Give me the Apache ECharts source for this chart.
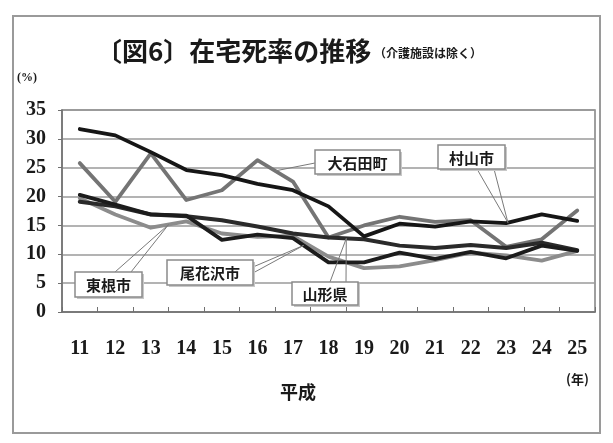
<!DOCTYPE html>
<html>
<head>
<meta charset="utf-8">
<script src="https://cdn.jsdelivr.net/npm/echarts@6/dist/echarts.min.js"></script>
<style>
  html, body { margin: 0; padding: 0; background: #ffffff; }
  #chart { width: 613px; height: 443px; }
</style>
</head>
<body>
<div id="chart"></div>
<script>
// 平成11年〜25年
const years = ['11', '12', '13', '14', '15', '16', '17', '18', '19', '20', '21', '22', '23', '24', '25'];

// 在宅死率（%）
const murayama   = [31.7, 30.6, 27.7, 24.6, 23.7, 22.2, 21.1, 18.3, 13.1, 15.3, 14.8, 15.7, 15.4, 16.9, 15.8];
const oishida    = [25.8, 19.1, 27.5, 19.4, 21.1, 26.3, 22.6, 12.9, 15.0, 16.5, 15.6, 15.9, 11.3, 12.6, 17.6];
const higashine  = [19.7, 16.9, 14.6, 15.7, 13.6, 13.0, 13.2, 9.6, 7.6, 7.9, 9.0, 10.3, 9.8, 8.9, 10.6];
const obanazawa  = [20.3, 18.6, 16.9, 16.7, 12.5, 13.4, 12.8, 8.6, 8.6, 10.3, 9.2, 10.4, 9.3, 11.5, 10.6];
const yamagata   = [19.1, 18.3, 16.9, 16.6, 15.9, 14.8, 13.6, 12.9, 12.6, 11.5, 11.1, 11.6, 11.1, 12.0, 10.7];

const yMin = 0, yMax = 35, yStep = 5;

const serifNum = '"Liberation Serif", "DejaVu Serif", serif';
const cjk = '"Noto Sans CJK JP", sans-serif';

const chart = echarts.init(document.getElementById('chart'), null, { renderer: 'canvas' });

function line(name, data, color, width, z) {
  return {
    name, type: 'line', data, symbol: 'none', z,
    lineStyle: { color, width, cap: 'round', join: 'round' }
  };
}

chart.setOption({
  backgroundColor: '#ffffff',
  animation: false,
  grid: {
    left: 62, right: 18, top: 110, bottom: 131,
    show: true, borderColor: '#808080', borderWidth: 1.5, backgroundColor: '#ffffff'
  },
  xAxis: {
    type: 'category',
    data: years,
    boundaryGap: true,
    axisLine: { lineStyle: { color: '#707070', width: 1.5 } },
    axisTick: { show: true, inside: true, length: 5, lineStyle: { color: '#707070' } },
    axisLabel: { color: '#1a1a1a', fontFamily: serifNum, fontWeight: 'bold', fontSize: 20, margin: 27 }
  },
  yAxis: {
    type: 'value',
    min: yMin, max: yMax, interval: yStep,
    axisLine: { show: true, lineStyle: { color: '#707070', width: 1.5 } },
    axisTick: { show: true, length: 4, lineStyle: { color: '#707070' } },
    splitLine: { lineStyle: { color: '#9a9a9a', width: 1.5 } },
    axisLabel: { color: '#1a1a1a', fontFamily: serifNum, fontWeight: 'bold', fontSize: 20, margin: 16 }
  },
  series: [
    line('大石田町', oishida, '#747474', 3.8, 2),
    line('東根市', higashine, '#8c8c8c', 3.8, 3),
    line('山形県', yamagata, '#2a2a2a', 4, 4),
    line('尾花沢市', obanazawa, '#1c1c1c', 3.8, 5),
    line('村山市', murayama, '#161616', 3.8, 6)
  ]
});

// Point on a series at a fractional category position
function anchorOn(data, pos) {
  const i0 = Math.floor(pos), i1 = Math.min(i0 + 1, data.length - 1), t = pos - i0;
  const p0 = chart.convertToPixel({ xAxisIndex: 0, yAxisIndex: 0 }, [i0, data[i0]]);
  const p1 = chart.convertToPixel({ xAxisIndex: 0, yAxisIndex: 0 }, [i1, data[i1]]);
  return [p0[0] + (p1[0] - p0[0]) * t, p0[1] + (p1[1] - p0[1]) * t];
}

// Callout boxes: box rectangle, leader start points on the box, series + position of the target
const callouts = [
  { text: '大石田町', box: [315, 150, 85, 24], from: [[315, 163]], data: oishida, pos: 5.5 },
  { text: '村山市', box: [438, 145, 67, 24], from: [[477, 169], [494, 169]], data: murayama, pos: 12.05 },
  { text: '東根市', box: [75, 272, 67, 25], from: [[115, 272], [131, 272]], data: higashine, pos: 2.5 },
  { text: '尾花沢市', box: [167, 260, 86, 25], from: [[253, 267], [253, 273]], data: obanazawa, pos: 6.3 },
  { text: '山形県', box: [292, 282, 66, 23], from: [[330, 282], [346, 282]], data: yamagata, pos: 7.5 }
];

const graphics = [
  // outer frame
  { type: 'rect', shape: { x: 13, y: 16, width: 587, height: 417 }, style: { fill: 'none', stroke: '#9a9a9a', lineWidth: 2 }, z: 1 },
  // title
  { type: 'text', x: 96, y: 51, style: { text: '〔図6〕在宅死率の推移', font: 'bold 26px ' + cjk, fill: '#1a1a1a', textVerticalAlign: 'middle' }, z: 10 },
  { type: 'text', x: 374, y: 53, style: { text: '（介護施設は除く）', font: 'bold 12px ' + cjk, fill: '#1a1a1a', textVerticalAlign: 'middle' }, z: 10 },
  // units and axis title
  { type: 'text', x: 17, y: 78, style: { text: '(%)', font: 'bold 12px ' + serifNum, fill: '#1a1a1a', textVerticalAlign: 'middle' }, z: 10 },
  { type: 'text', x: 566, y: 379, style: { text: '(年)', font: 'bold 13px ' + cjk, fill: '#1a1a1a', textVerticalAlign: 'middle' }, z: 10 },
  { type: 'text', x: 298, y: 392, style: { text: '平成', font: 'bold 18px ' + cjk, fill: '#1a1a1a', textAlign: 'center', textVerticalAlign: 'middle' }, z: 10 }
];

callouts.forEach(c => {
  const target = anchorOn(c.data, c.pos);
  c.from.forEach(f => {
    graphics.push({ type: 'line', shape: { x1: f[0], y1: f[1], x2: target[0], y2: target[1] },
      style: { stroke: '#7a7a7a', lineWidth: 1 }, z: 20 });
  });
  const [bx, by, bw, bh] = c.box;
  graphics.push({ type: 'rect', shape: { x: bx + 2, y: by + 2, width: bw, height: bh }, style: { fill: '#c8c8c8' }, z: 21 });
  graphics.push({ type: 'rect', shape: { x: bx, y: by, width: bw, height: bh },
    style: { fill: '#ffffff', stroke: '#8a8a8a', lineWidth: 1.5 }, z: 22 });
  graphics.push({ type: 'text', x: bx + bw / 2, y: by + bh / 2 + 1,
    style: { text: c.text, font: 'bold 15px ' + cjk, fill: '#1a1a1a', textAlign: 'center', textVerticalAlign: 'middle' }, z: 23 });
});

chart.setOption({ graphic: graphics });
</script>
</body>
</html>
